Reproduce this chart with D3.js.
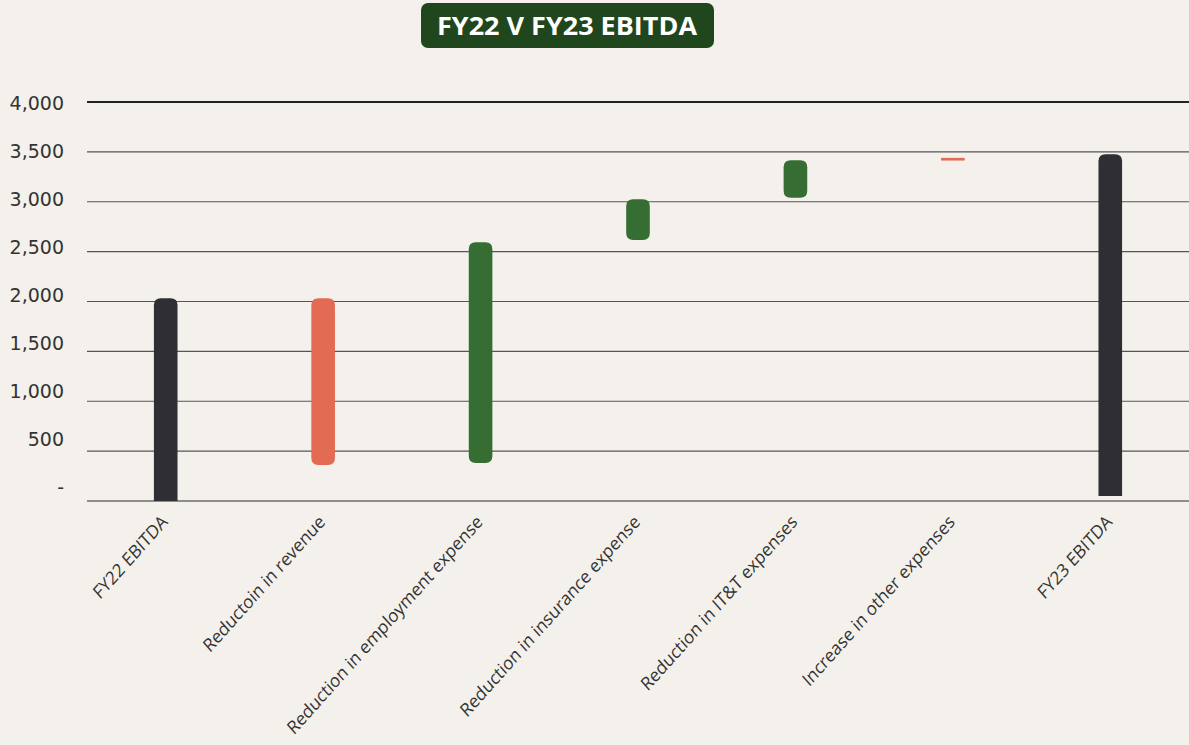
<!DOCTYPE html>
<html>
<head>
<meta charset="utf-8">
<script src="https://cdn.jsdelivr.net/npm/d3@7"></script>
<style>
  html, body { margin: 0; padding: 0; background: #f4f1ec; }
  svg { display: block; }
</style>
</head>
<body>
<svg width="1189" height="745"></svg>
<script>
// values
let categories = [
  'FY22 EBITDA',
  'Reductoin in revenue',
  'Reduction in employment expense',
  'Reduction in insurance expense',
  'Reduction in IT&T expenses',
  'Increase in other expenses',
  'FY23 EBITDA'
];
let barLow  = [0, 361, 381, 2617, 3041, 3413, 50];
let barHigh = [2032, 2032, 2593, 3024, 3416, 3440, 3475];
let barKind = ['total', 'down', 'up', 'up', 'up', 'down', 'total'];
let yTicks = [0, 500, 1000, 1500, 2000, 2500, 3000, 3500, 4000];

let colors = { total: '#2f2e33', down: '#e36a53', up: '#366d33' };

var svg = d3.select('svg'),
width = +svg.attr('width'),
height = +svg.attr('height');

let x = d3.scaleBand()
.domain(categories)
.range([87, 1189])
.paddingInner(0.85)
.paddingOuter(0.425);

let y = d3.scaleLinear()
.domain([0, 4000])
.range([501, 102]);

// the tick labels sit on a slightly tighter spacing than the grid lines
let yLabel = d3.scaleLinear()
.domain([0, 4000])
.range([487, 102.7]);

// grid lines
svg.append('g')
.selectAll('line')
.data(yTicks)
.enter()
.append('line')
.attr('x1', 87)
.attr('x2', width)
.attr('y1', d => y(d))
.attr('y2', d => y(d))
.attr('stroke', d => d === 4000 ? '#222' : (d === 0 ? '#2a2a2a' : '#555'))
.attr('stroke-width', d => d === 4000 ? 2.2 : 1.2);

// y labels
let fmt = d3.format(',');
svg.append('g')
.selectAll('text')
.data(yTicks)
.enter()
.append('text')
.attr('x', 64)
.attr('y', d => yLabel(d))
.attr('dy', '0.36em')
.attr('text-anchor', 'end')
.style('font-family', '"DejaVu Sans", sans-serif')
.style('font-size', '19px')
.style('fill', '#333')
.text(d => d === 0 ? '-' : fmt(d));

// bars
function barPath(i) {
  let x0 = x(categories[i]);
  let w = x.bandwidth();
  let top = y(barHigh[i]);
  let bot = y(barLow[i]);
  let h = bot - top;
  let r = Math.min(7, h / 2, w / 2);
  if (barKind[i] === 'total') {
    // rounded top only
    return `M${x0},${bot} V${top + r} Q${x0},${top} ${x0 + r},${top} H${x0 + w - r} Q${x0 + w},${top} ${x0 + w},${top + r} V${bot} Z`;
  }
  return `M${x0},${bot - r} V${top + r} Q${x0},${top} ${x0 + r},${top} H${x0 + w - r} Q${x0 + w},${top} ${x0 + w},${top + r} V${bot - r} Q${x0 + w},${bot} ${x0 + w - r},${bot} H${x0 + r} Q${x0},${bot} ${x0},${bot - r} Z`;
}

svg.append('g')
.selectAll('path')
.data(categories.map((c, i) => i))
.enter()
.append('path')
.attr('d', i => (barHigh[i] - barLow[i]) < 100
  ? `M${x(categories[i])},${y(barHigh[i])} h${x.bandwidth()} V${y(barLow[i])} h${-x.bandwidth()} Z`
  : barPath(i))
.style('fill', i => colors[barKind[i]]);

// category labels (the original is a touch stretched vertically)
svg.append('g')
.selectAll('text')
.data(categories)
.enter()
.append('text')
.attr('transform', d => `translate(${x(d) + x.bandwidth() / 2 + 3},${523}) scale(1,1.12) rotate(-45)`)
.attr('text-anchor', 'end')
.style('font-family', '"Open Sans", sans-serif')
.style('font-size', '16.6px')
.style('fill', '#333')
.text(d => d);

// title box
let title = svg.append('g');
title.append('rect')
.attr('x', 421)
.attr('y', 3)
.attr('width', 293)
.attr('height', 45)
.attr('rx', 7)
.style('fill', '#1f461c');
title.append('text')
.attr('x', 567)
.attr('y', 26)
.attr('dy', '0.35em')
.attr('text-anchor', 'middle')
.attr('textLength', 260)
.attr('lengthAdjust', 'spacingAndGlyphs')
.style('font-family', '"Open Sans", sans-serif')
.style('font-weight', 'bold')
.style('font-size', '25px')
.style('fill', '#fff')
.text('FY22 V FY23 EBITDA');
</script>
</body>
</html>
